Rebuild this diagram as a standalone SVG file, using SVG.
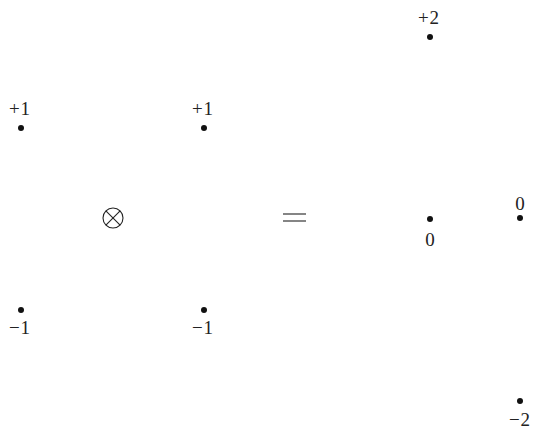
<svg xmlns="http://www.w3.org/2000/svg" width="535" height="431" viewBox="0 0 535 431">
<style>
text{font-family:"Liberation Serif","DejaVu Serif",serif;font-size:19px;fill:#222;text-anchor:middle}
.s{letter-spacing:1px}
.dot{fill:#111}
.ln{stroke:#222;stroke-width:1.1;fill:none}
</style>
<rect width="535" height="431" fill="#fff"/>
<g id="a-plus1"><text class="s" x="20" y="115">+1</text><circle class="dot" cx="21" cy="128" r="3"/></g>
<g id="a-minus1"><circle class="dot" cx="21" cy="310" r="3"/><text class="s" x="20" y="334">−1</text></g>
<g id="b-plus1"><text class="s" x="203" y="115">+1</text><circle class="dot" cx="204" cy="128" r="3"/></g>
<g id="b-minus1"><circle class="dot" cx="204" cy="310" r="3"/><text class="s" x="203" y="334">−1</text></g>
<g id="otimes"><circle class="ln" cx="113" cy="218" r="10"/><line class="ln" x1="105.9" y1="210.9" x2="120.1" y2="225.1"/><line class="ln" x1="120.1" y1="210.9" x2="105.9" y2="225.1"/></g>
<g id="equals"><line class="ln" x1="283" y1="214" x2="306" y2="214"/><line class="ln" x1="283" y1="221" x2="306" y2="221"/></g>
<g id="c-plus2"><text class="s" x="429" y="24">+2</text><circle class="dot" cx="430" cy="37" r="3"/></g>
<g id="c-zero"><circle class="dot" cx="430" cy="219" r="3"/><text x="430" y="246">0</text></g>
<g id="d-zero"><text x="520" y="210">0</text><circle class="dot" cx="520" cy="218" r="3"/></g>
<g id="d-minus2"><circle class="dot" cx="520" cy="401" r="3"/><text class="s" x="520" y="426">−2</text></g>
<g id="connectors"></g>
</svg>
